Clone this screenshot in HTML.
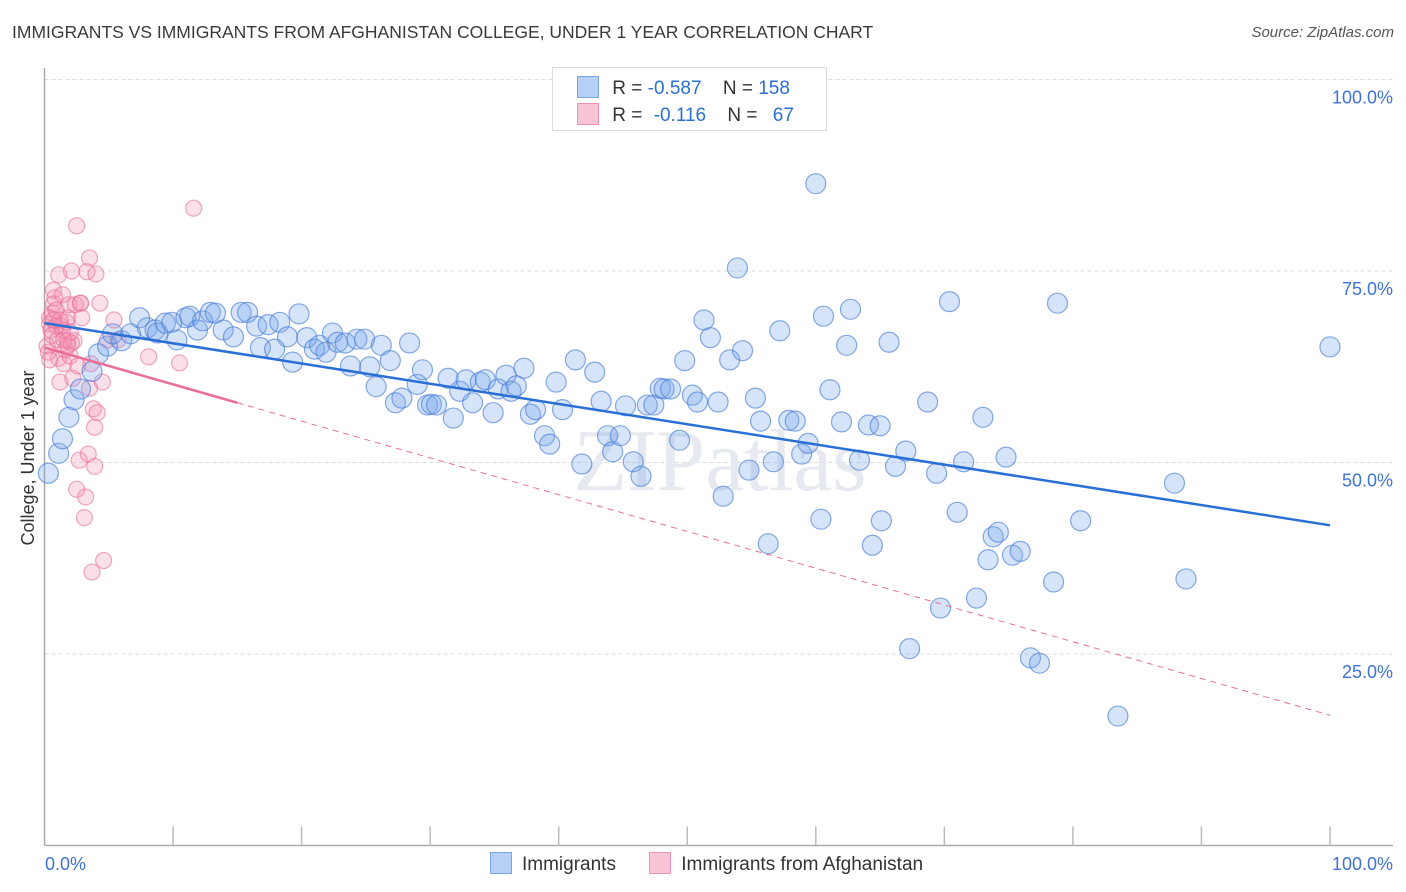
<!DOCTYPE html>
<html><head><meta charset="utf-8">
<style>
body{margin:0;background:#fff;font-family:"Liberation Sans",sans-serif;}
#wrap{position:relative;width:1406px;height:892px;overflow:hidden;}
.t{position:absolute;white-space:nowrap;}
</style></head>
<body>
<div id="wrap">
<div class="t" style="left:12px;top:22px;font-size:17.5px;color:#3a3a3a;">IMMIGRANTS VS IMMIGRANTS FROM AFGHANISTAN COLLEGE, UNDER 1 YEAR CORRELATION CHART</div>
<div class="t" style="right:12px;top:24px;font-size:15px;color:#555;font-style:italic;">Source: ZipAtlas.com</div>
<svg id="chart" width="1406" height="892" style="position:absolute;left:0;top:0"></svg>
</div>
<script>
const yTickValues=[25,50,75,100];
const yTickLabels=["25.0%","50.0%","75.0%","100.0%"];
const xTickValues=[0,10,20,30,40,50,60,70,80,90,100];
const xEndLabels=["0.0%","100.0%"];
const blueX=[0.3,1.1,1.4,1.9,2.3,2.8,3.7,4.2,4.9,5.3,6.0,6.7,7.4,8.0,8.6,8.8,9.4,9.9,10.3,11.0,11.3,11.9,12.3,12.9,13.3,13.9,14.7,15.3,15.8,16.5,16.8,17.4,17.9,18.3,18.9,19.3,19.8,20.4,21.0,21.4,21.9,22.4,22.8,23.4,23.8,24.3,24.9,25.3,26.2,25.8,26.9,27.3,27.8,28.4,29.0,29.4,29.8,30.1,30.5,31.4,31.8,32.3,32.8,33.3,33.9,34.3,34.9,35.3,35.9,36.3,36.7,37.3,37.8,38.2,38.9,39.3,39.8,40.3,41.3,41.8,42.8,43.3,43.8,44.2,44.8,45.2,45.8,46.4,46.9,47.4,47.9,48.2,48.7,49.4,49.8,50.4,50.8,51.3,51.8,52.4,52.8,53.3,53.9,54.3,54.8,55.3,55.7,56.3,56.7,57.2,57.9,58.4,58.9,59.4,60.0,60.4,60.6,61.1,62.0,62.4,62.7,63.4,64.1,64.4,65.0,65.1,65.7,66.2,67.0,67.3,68.7,69.4,69.7,70.4,71.0,71.5,72.5,73.0,73.4,73.8,74.2,74.8,75.3,75.9,76.7,77.4,78.5,78.8,80.6,83.5,87.9,88.8,100];
const blueY=[48.6,51.2,53.1,55.9,58.2,59.6,61.9,64.2,65.2,66.8,65.9,66.8,68.9,67.6,67.3,66.9,68.2,68.3,66.0,68.9,69.1,67.3,68.5,69.6,69.5,67.3,66.4,69.6,69.6,67.8,65.0,68.0,64.8,68.3,66.4,63.1,69.4,66.3,64.8,65.3,64.4,66.9,65.7,65.6,62.6,66.1,66.1,62.5,65.3,59.9,63.3,57.8,58.4,65.6,60.2,62.1,57.5,57.6,57.5,61.0,55.8,59.3,60.8,57.8,60.5,60.8,56.5,59.6,61.4,59.3,60.0,62.3,56.3,56.9,53.5,52.4,60.5,56.9,63.4,49.8,61.8,58.0,53.5,51.4,53.5,57.4,50.1,48.2,57.5,57.5,59.7,59.6,59.6,52.9,63.3,58.8,57.9,68.6,66.3,57.9,45.6,63.4,75.4,64.6,49.0,58.4,55.4,39.4,50.1,67.2,55.5,55.4,51.1,52.5,86.4,42.6,69.1,59.5,55.3,65.3,70.0,50.3,54.9,39.2,54.8,42.4,65.7,49.5,51.5,25.7,57.9,48.6,31.0,71.0,43.5,50.1,32.3,55.9,37.3,40.3,40.9,50.7,37.9,38.4,24.5,23.8,34.4,70.8,42.4,16.9,47.3,34.8,65.1];
const pinkX=[0.2,0.3,0.4,0.4,0.5,0.6,0.7,0.7,0.8,0.9,1.0,1.1,1.1,1.2,1.3,1.4,1.4,1.5,1.6,1.7,1.8,1.8,1.9,2.0,2.1,2.1,2.2,2.3,2.4,2.5,2.5,2.6,2.7,2.8,2.8,2.9,3.1,3.2,3.3,3.4,3.5,3.5,3.6,3.7,3.8,3.9,3.9,4.0,4.1,4.3,4.5,4.6,4.9,5.4,5.7,8.1,10.5,11.6,0.4,0.6,0.9,1.2,1.5,1.8,0.7,2.0];
const pinkY=[65.2,64.4,68.1,68.9,67.3,69.5,72.5,70.7,71.5,67.8,66.0,74.5,63.6,60.5,67.8,71.9,67.3,62.9,64.7,68.3,65.9,68.9,70.6,63.9,65.6,75.0,61.0,65.9,70.6,46.5,80.9,62.6,50.3,70.8,70.8,68.9,42.8,45.5,74.9,51.1,76.7,59.7,62.9,35.7,57.0,54.6,49.5,74.6,56.5,70.8,60.5,37.2,66.0,68.6,66.0,63.8,63.0,83.2,63.4,66.6,69.9,68.6,66.0,65.3,68.6,67.0];
const blueTrend=[68.2,41.8];
const pinkTrend=[65.0,17.0];
const pinkSolidEnd=15;

const NS="http://www.w3.org/2000/svg";
const svg=document.getElementById('chart');
const X0=44.5,X1=1330,Y0=845.5,Y100=79.5;
function xs(v){return X0+(X1-X0)*v/100;}
function ys(v){return Y0-(Y0-Y100)*v/100;}
function mk(tag,attrs,parent){const e=document.createElementNS(NS,tag);for(const k in attrs)e.setAttribute(k,attrs[k]);(parent||svg).appendChild(e);return e;}

// gridlines
yTickValues.forEach((v,i)=>{
  const g=mk('line',{x1:X0,x2:1393,y1:ys(v),y2:ys(v),stroke:'#ddd','stroke-dasharray':'4,3','stroke-width':1});
  
  
  const t=mk('text',{x:1393,y:ys(v)+24,'text-anchor':'end','font-size':18,fill:'#3d72d6','font-family':'Liberation Sans, sans-serif'});
  t.textContent=yTickLabels[i];
  
  
});
// watermark
const wm=mk('text',{x:720,y:490,'text-anchor':'middle','font-size':88,fill:'#e6e9ef','font-family':'Liberation Serif, serif'});
wm.textContent='ZIPatlas';


// axes
const ya=mk('line',{x1:X0,x2:X0,y1:68,y2:Y0,stroke:'#aaa','stroke-width':1.5});


const xa=mk('line',{x1:X0,x2:1393,y1:Y0,y2:Y0,stroke:'#aaa','stroke-width':1.5});


xTickValues.forEach(v=>{
  if(v===0)return;
  const t=mk('line',{x1:xs(v),x2:xs(v),y1:Y0-19,y2:Y0,stroke:'#bbb','stroke-width':1.5});
  
  
});
[[0,'start',45],[100,'end',1393]].forEach((d,i)=>{
  const t=mk('text',{x:d[2],y:870,'text-anchor':d[1],'font-size':18,fill:'#3d72d6','font-family':'Liberation Sans, sans-serif'});
  t.textContent=xEndLabels[i];
  
  
});
const yt=mk('text',{x:34,y:458,'text-anchor':'middle','font-size':18,fill:'#333',transform:'rotate(-90 34 458)','font-family':'Liberation Sans, sans-serif'});
yt.textContent='College, Under 1 year';



// points
pinkX.forEach((x,i)=>{
  const c=mk('circle',{cx:xs(x),cy:ys(pinkY[i]),r:8,fill:'rgba(244,143,177,0.28)',stroke:'rgba(232,110,150,0.6)','stroke-width':1.2});
  
  
});
blueX.forEach((x,i)=>{
  const c=mk('circle',{cx:xs(x),cy:ys(blueY[i]),r:10,fill:'rgba(120,165,235,0.3)',stroke:'rgba(70,125,215,0.65)','stroke-width':1.2});
  
  
});
// trends
function trendAt(t,x){return t[0]+(t[1]-t[0])*x/100;}
const bl=mk('line',{x1:xs(0),y1:ys(blueTrend[0]),x2:xs(100),y2:ys(blueTrend[1]),stroke:'#2a6fd6','stroke-width':2.5});


const pd=mk('line',{x1:xs(pinkSolidEnd),y1:ys(trendAt(pinkTrend,pinkSolidEnd)),x2:xs(100),y2:ys(pinkTrend[1]),stroke:'#ec6d96','stroke-width':1,'stroke-dasharray':'6,5'});


const ps=mk('line',{x1:xs(0),y1:ys(pinkTrend[0]),x2:xs(pinkSolidEnd),y2:ys(trendAt(pinkTrend,pinkSolidEnd)),stroke:'#ec6d96','stroke-width':2.5});


</script>
<div style="position:absolute;left:552px;top:67px;width:273px;height:62px;border:1px solid #ddd;background:#fff;font-size:19px;">
  <div style="position:absolute;left:24px;top:8px;white-space:nowrap;">
    <span style="display:inline-block;width:20px;height:20px;background:#b5cff5;border:1px solid #7aa6e6;vertical-align:-4px;"></span>
    <span style="color:#333;margin-left:8px;">R = </span><span style="color:#2a6fd6;">-0.587</span>
    <span style="color:#333;margin-left:16px;">N = </span><span style="color:#2a6fd6;">158</span>
  </div>
  <div style="position:absolute;left:24px;top:35px;white-space:nowrap;">
    <span style="display:inline-block;width:20px;height:20px;background:#f9c4d5;border:1px solid #ee93b1;vertical-align:-4px;"></span>
    <span style="color:#333;margin-left:8px;">R = </span><span style="color:#2a6fd6;margin-left:6px;">-0.116</span>
    <span style="color:#333;margin-left:16px;">N = </span><span style="color:#2a6fd6;margin-left:10px;">67</span>
  </div>
</div>
<div style="position:absolute;left:490px;top:852px;font-size:19px;color:#333;white-space:nowrap;">
  <span><span style="display:inline-block;width:20px;height:20px;background:#b5cff5;border:1px solid #7aa6e6;vertical-align:-4px;"></span><span style="margin-left:10px;">Immigrants</span></span>
  <span style="margin-left:28px;"><span style="display:inline-block;width:20px;height:20px;background:#f9c4d5;border:1px solid #ee93b1;vertical-align:-4px;"></span><span style="margin-left:10px;">Immigrants from Afghanistan</span></span>
</div>
</body></html>
